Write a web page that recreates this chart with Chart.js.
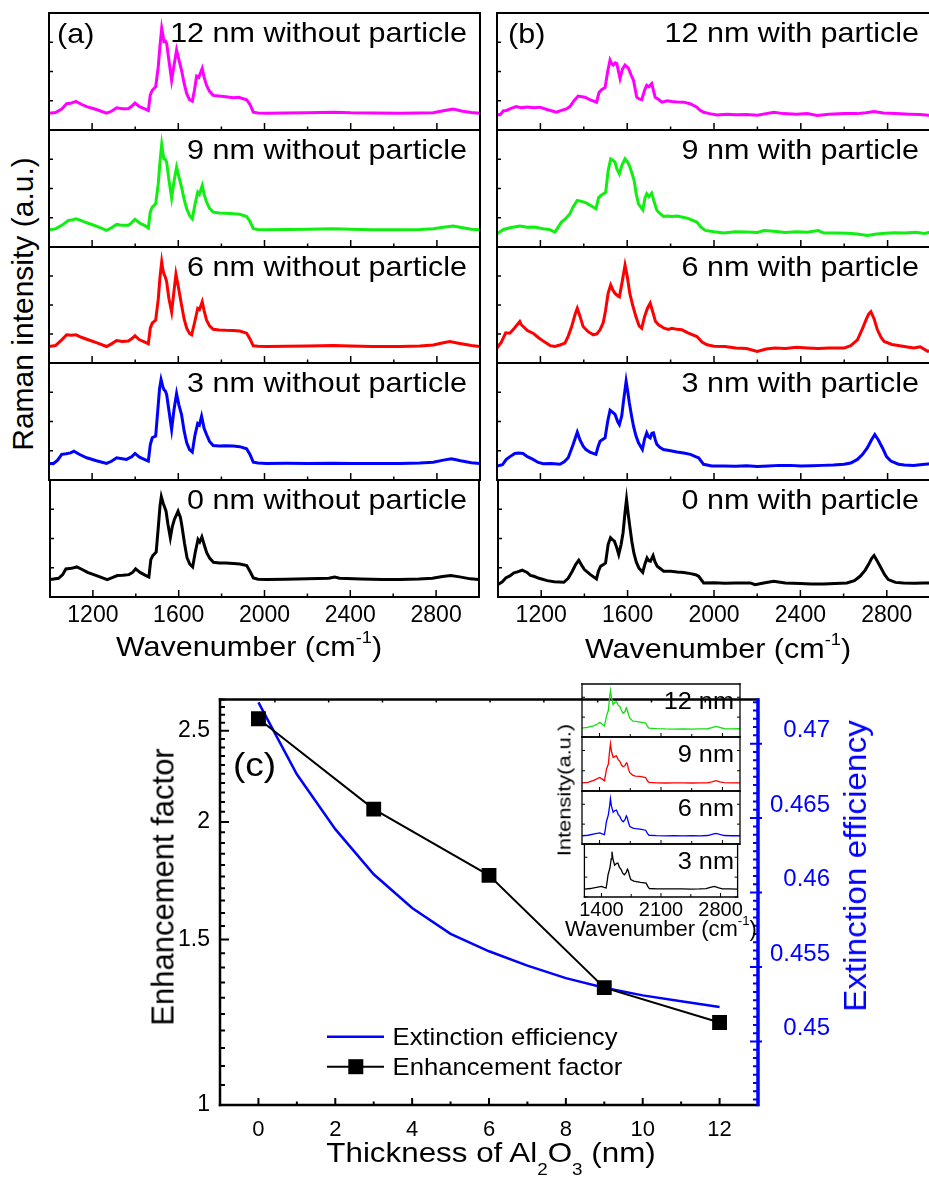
<!DOCTYPE html>
<html>
<head>
<meta charset="utf-8">
<script src="https://cdn.jsdelivr.net/npm/chart.js@4.4.0/dist/chart.umd.min.js"></script>
<style>
  body { margin: 0; background: #fff; overflow: hidden; }
  #fig { position: relative; width: 929px; height: 1178px; overflow: hidden; background: #fff;
         font-family: "Liberation Sans", Arial, sans-serif; color: #000; }
  canvas { position: absolute; }
  .t { position: absolute; white-space: nowrap; line-height: 1; }
  .t sup { font-size: 0.6em; vertical-align: 0.8em; line-height: 0; }
  .t sub { font-size: 0.6em; vertical-align: -0.75em; line-height: 0; }
</style>
</head>
<body>
<div id="fig"></div>
<script>
// ---------- data (intensity as fraction of each sub-panel height) ----------
// panel (a): without particle
const a12 = [[1000,0.144],[1030,0.15],[1059,0.18],[1082,0.224],[1100,0.228],[1125,0.244],[1150,0.22],[1175,0.2],[1220,0.175],[1267,0.144],[1290,0.16],[1314,0.19],[1340,0.182],[1368,0.182],[1385,0.205],[1399,0.23],[1420,0.2],[1445,0.18],[1461,0.167],[1470,0.3],[1479,0.34],[1495,0.37],[1507,0.54],[1515,0.72],[1523,0.87],[1528,0.82],[1533,0.756],[1540,0.76],[1546,0.74],[1556,0.6],[1569,0.425],[1580,0.55],[1592,0.684],[1603,0.6],[1615,0.51],[1627,0.4],[1639,0.31],[1652,0.26],[1665,0.247],[1675,0.34],[1685,0.46],[1695,0.45],[1711,0.526],[1720,0.45],[1731,0.382],[1745,0.33],[1762,0.296],[1790,0.29],[1820,0.285],[1855,0.276],[1880,0.28],[1917,0.259],[1932,0.22],[1948,0.152],[1970,0.146],[2010,0.144],[2100,0.146],[2200,0.148],[2319,0.152],[2400,0.147],[2500,0.145],[2628,0.144],[2720,0.146],[2783,0.148],[2830,0.165],[2875,0.18],[2920,0.16],[2960,0.15],[3000,0.144]];
const a9 = [[1000,0.148],[1030,0.155],[1059,0.185],[1090,0.227],[1105,0.23],[1125,0.241],[1150,0.225],[1175,0.207],[1220,0.178],[1267,0.142],[1290,0.165],[1314,0.193],[1340,0.185],[1368,0.185],[1385,0.21],[1399,0.236],[1420,0.205],[1445,0.183],[1461,0.162],[1470,0.3],[1479,0.341],[1495,0.369],[1507,0.54],[1515,0.73],[1523,0.875],[1528,0.81],[1533,0.753],[1540,0.75],[1546,0.724],[1556,0.58],[1569,0.42],[1580,0.56],[1592,0.682],[1603,0.6],[1615,0.511],[1627,0.41],[1639,0.327],[1652,0.27],[1665,0.241],[1677,0.36],[1690,0.469],[1698,0.45],[1711,0.526],[1720,0.45],[1731,0.384],[1745,0.33],[1762,0.298],[1790,0.29],[1820,0.288],[1855,0.284],[1885,0.28],[1917,0.261],[1932,0.22],[1948,0.156],[1970,0.15],[2010,0.148],[2100,0.15],[2200,0.152],[2319,0.156],[2400,0.151],[2500,0.148],[2628,0.148],[2720,0.15],[2783,0.156],[2830,0.168],[2875,0.179],[2920,0.165],[2960,0.152],[3000,0.148]];
const a6 = [[1000,0.142],[1030,0.15],[1059,0.2],[1082,0.243],[1105,0.24],[1125,0.243],[1150,0.222],[1175,0.205],[1220,0.175],[1267,0.142],[1290,0.165],[1314,0.194],[1340,0.186],[1368,0.19],[1385,0.21],[1399,0.234],[1420,0.2],[1445,0.18],[1461,0.166],[1470,0.3],[1479,0.343],[1495,0.37],[1507,0.55],[1515,0.74],[1523,0.871],[1528,0.81],[1533,0.77],[1540,0.74],[1546,0.7],[1556,0.56],[1569,0.44],[1580,0.62],[1589,0.766],[1600,0.66],[1615,0.5],[1627,0.38],[1639,0.3],[1652,0.255],[1662,0.243],[1677,0.36],[1690,0.47],[1698,0.46],[1711,0.528],[1720,0.45],[1731,0.37],[1745,0.32],[1762,0.29],[1790,0.285],[1820,0.282],[1855,0.28],[1885,0.275],[1917,0.257],[1932,0.21],[1948,0.148],[1970,0.145],[2010,0.142],[2100,0.144],[2200,0.146],[2319,0.15],[2400,0.146],[2500,0.143],[2628,0.142],[2720,0.147],[2783,0.155],[2830,0.175],[2860,0.185],[2900,0.17],[2960,0.15],[3000,0.142]];
const a3 = [[1000,0.142],[1020,0.14],[1040,0.17],[1059,0.219],[1080,0.225],[1100,0.232],[1116,0.247],[1140,0.22],[1175,0.19],[1220,0.165],[1267,0.142],[1290,0.16],[1314,0.19],[1340,0.182],[1360,0.176],[1385,0.2],[1399,0.227],[1420,0.195],[1445,0.175],[1461,0.162],[1470,0.3],[1479,0.361],[1495,0.375],[1505,0.6],[1513,0.78],[1520,0.858],[1528,0.8],[1533,0.773],[1540,0.76],[1546,0.73],[1556,0.6],[1569,0.432],[1580,0.6],[1592,0.739],[1603,0.64],[1615,0.56],[1627,0.42],[1639,0.318],[1652,0.26],[1665,0.239],[1677,0.38],[1690,0.483],[1698,0.47],[1708,0.545],[1720,0.44],[1731,0.389],[1745,0.33],[1762,0.295],[1790,0.29],[1820,0.292],[1855,0.29],[1885,0.285],[1917,0.267],[1932,0.22],[1948,0.153],[1970,0.145],[2010,0.142],[2100,0.143],[2200,0.142],[2319,0.144],[2400,0.142],[2500,0.141],[2628,0.142],[2720,0.146],[2783,0.152],[2830,0.17],[2868,0.182],[2910,0.165],[2960,0.148],[3000,0.142]];
const a0 = [[1000,0.149],[1040,0.16],[1059,0.191],[1074,0.24],[1100,0.245],[1125,0.257],[1150,0.235],[1175,0.211],[1220,0.18],[1267,0.149],[1290,0.165],[1314,0.183],[1340,0.185],[1368,0.191],[1385,0.21],[1399,0.24],[1420,0.21],[1445,0.185],[1461,0.171],[1470,0.32],[1479,0.354],[1495,0.383],[1505,0.6],[1513,0.78],[1519,0.857],[1528,0.8],[1541,0.734],[1550,0.62],[1561,0.506],[1570,0.6],[1580,0.663],[1597,0.734],[1608,0.68],[1615,0.606],[1627,0.46],[1639,0.334],[1652,0.28],[1665,0.257],[1677,0.38],[1690,0.491],[1698,0.47],[1708,0.514],[1720,0.44],[1731,0.377],[1745,0.33],[1762,0.297],[1790,0.29],[1820,0.29],[1855,0.286],[1885,0.282],[1917,0.269],[1932,0.22],[1948,0.163],[1970,0.152],[2010,0.149],[2100,0.152],[2200,0.155],[2300,0.16],[2327,0.171],[2350,0.16],[2450,0.154],[2550,0.15],[2628,0.149],[2720,0.153],[2783,0.16],[2830,0.175],[2868,0.183],[2910,0.172],[2960,0.155],[3000,0.149]];

// panel (b): with particle
const b12 = [[1000,0.132],[1015,0.13],[1030,0.165],[1043,0.167],[1065,0.185],[1089,0.2],[1110,0.19],[1140,0.197],[1170,0.19],[1197,0.195],[1230,0.175],[1274,0.152],[1300,0.17],[1320,0.18],[1336,0.2],[1355,0.25],[1374,0.29],[1390,0.285],[1405,0.28],[1430,0.258],[1459,0.238],[1470,0.32],[1482,0.345],[1498,0.362],[1510,0.5],[1521,0.598],[1528,0.57],[1536,0.555],[1545,0.575],[1552,0.569],[1567,0.44],[1578,0.52],[1590,0.555],[1606,0.526],[1618,0.47],[1629,0.425],[1644,0.28],[1655,0.265],[1667,0.259],[1680,0.34],[1690,0.382],[1700,0.37],[1713,0.397],[1722,0.33],[1729,0.28],[1745,0.26],[1760,0.238],[1785,0.25],[1806,0.244],[1830,0.24],[1860,0.238],[1890,0.225],[1921,0.195],[1935,0.17],[1952,0.152],[1980,0.14],[2014,0.129],[2060,0.135],[2100,0.13],[2150,0.132],[2199,0.126],[2240,0.14],[2276,0.152],[2320,0.14],[2380,0.135],[2430,0.14],[2476,0.124],[2530,0.135],[2600,0.14],[2660,0.14],[2700,0.148],[2738,0.158],[2780,0.145],[2840,0.14],[2900,0.135],[2950,0.132],[3000,0.124]];
const b9 = [[1000,0.114],[1030,0.15],[1060,0.165],[1105,0.179],[1140,0.168],[1170,0.17],[1213,0.156],[1240,0.15],[1267,0.128],[1282,0.17],[1297,0.213],[1315,0.24],[1336,0.284],[1350,0.34],[1370,0.398],[1390,0.39],[1413,0.375],[1435,0.35],[1456,0.327],[1468,0.42],[1479,0.44],[1501,0.469],[1512,0.65],[1524,0.753],[1535,0.74],[1544,0.724],[1552,0.67],[1564,0.625],[1576,0.7],[1590,0.753],[1600,0.73],[1610,0.696],[1622,0.63],[1632,0.568],[1642,0.45],[1652,0.369],[1672,0.318],[1682,0.42],[1690,0.455],[1700,0.43],[1713,0.46],[1725,0.38],[1737,0.312],[1755,0.28],[1767,0.261],[1785,0.265],[1806,0.261],[1830,0.265],[1852,0.256],[1880,0.245],[1921,0.213],[1940,0.17],[1960,0.142],[2000,0.13],[2045,0.119],[2100,0.13],[2150,0.128],[2200,0.125],[2230,0.14],[2276,0.134],[2330,0.125],[2380,0.13],[2430,0.127],[2480,0.14],[2507,0.119],[2560,0.12],[2620,0.118],[2660,0.112],[2707,0.099],[2750,0.112],[2790,0.118],[2830,0.122],[2880,0.12],[2930,0.125],[2970,0.115],[3000,0.128]];
const b6 = [[1000,0.129],[1020,0.18],[1040,0.26],[1059,0.257],[1080,0.3],[1105,0.357],[1112,0.33],[1140,0.28],[1166,0.257],[1190,0.22],[1220,0.18],[1245,0.15],[1267,0.142],[1290,0.155],[1313,0.171],[1328,0.23],[1344,0.314],[1360,0.42],[1370,0.472],[1383,0.4],[1397,0.314],[1420,0.27],[1444,0.243],[1460,0.25],[1475,0.286],[1490,0.35],[1500,0.45],[1512,0.6],[1524,0.672],[1534,0.63],[1544,0.6],[1556,0.58],[1564,0.571],[1575,0.68],[1590,0.843],[1600,0.75],[1612,0.6],[1625,0.5],[1640,0.4],[1655,0.32],[1667,0.3],[1680,0.4],[1693,0.47],[1706,0.515],[1718,0.44],[1730,0.36],[1745,0.33],[1770,0.3],[1790,0.29],[1806,0.3],[1830,0.29],[1852,0.286],[1880,0.26],[1921,0.228],[1945,0.18],[1968,0.157],[2000,0.145],[2050,0.142],[2100,0.13],[2150,0.125],[2199,0.1],[2240,0.12],[2280,0.13],[2330,0.125],[2380,0.135],[2430,0.13],[2480,0.125],[2530,0.13],[2599,0.129],[2630,0.15],[2661,0.2],[2685,0.3],[2700,0.37],[2712,0.42],[2723,0.443],[2738,0.38],[2753,0.286],[2770,0.22],[2784,0.186],[2820,0.16],[2877,0.142],[2920,0.13],[2950,0.14],[2985,0.1],[3000,0.11]];
const b3 = [[1000,0.119],[1025,0.13],[1043,0.176],[1060,0.2],[1082,0.227],[1100,0.23],[1120,0.227],[1140,0.2],[1166,0.176],[1190,0.15],[1213,0.139],[1250,0.14],[1290,0.134],[1310,0.155],[1328,0.19],[1350,0.3],[1370,0.409],[1383,0.34],[1397,0.29],[1410,0.26],[1428,0.239],[1456,0.219],[1465,0.28],[1475,0.332],[1490,0.35],[1498,0.36],[1510,0.5],[1521,0.597],[1532,0.58],[1544,0.56],[1556,0.5],[1564,0.474],[1575,0.55],[1582,0.659],[1595,0.844],[1603,0.75],[1610,0.659],[1620,0.55],[1629,0.46],[1640,0.38],[1652,0.318],[1670,0.261],[1680,0.35],[1690,0.403],[1698,0.37],[1706,0.36],[1714,0.4],[1721,0.403],[1730,0.34],[1737,0.304],[1750,0.28],[1767,0.261],[1800,0.25],[1829,0.239],[1860,0.23],[1891,0.219],[1915,0.2],[1929,0.19],[1952,0.134],[1990,0.12],[2045,0.119],[2100,0.118],[2150,0.122],[2200,0.115],[2250,0.12],[2300,0.125],[2353,0.125],[2400,0.12],[2450,0.122],[2500,0.125],[2550,0.128],[2599,0.134],[2630,0.145],[2661,0.176],[2685,0.22],[2707,0.276],[2725,0.34],[2741,0.389],[2758,0.34],[2776,0.276],[2795,0.2],[2815,0.162],[2850,0.135],[2877,0.128],[2920,0.125],[2960,0.132],[3000,0.139]];
const b0 = [[1000,0.106],[1020,0.13],[1036,0.163],[1055,0.18],[1074,0.206],[1090,0.215],[1112,0.229],[1135,0.21],[1150,0.185],[1166,0.177],[1190,0.16],[1228,0.14],[1260,0.13],[1305,0.126],[1325,0.16],[1344,0.22],[1360,0.28],[1374,0.314],[1388,0.27],[1400,0.234],[1428,0.191],[1456,0.154],[1465,0.22],[1475,0.263],[1490,0.28],[1498,0.291],[1510,0.45],[1521,0.506],[1530,0.49],[1539,0.477],[1550,0.42],[1559,0.363],[1570,0.45],[1579,0.549],[1588,0.72],[1595,0.834],[1602,0.72],[1610,0.606],[1620,0.47],[1629,0.377],[1640,0.3],[1652,0.249],[1670,0.211],[1680,0.28],[1690,0.334],[1698,0.31],[1706,0.306],[1718,0.354],[1727,0.3],[1737,0.263],[1767,0.22],[1800,0.22],[1829,0.214],[1860,0.21],[1891,0.2],[1915,0.19],[1929,0.177],[1952,0.12],[2000,0.122],[2050,0.118],[2100,0.12],[2168,0.12],[2190,0.105],[2230,0.12],[2276,0.134],[2330,0.12],[2400,0.115],[2450,0.112],[2507,0.111],[2560,0.115],[2615,0.12],[2650,0.14],[2676,0.177],[2700,0.23],[2715,0.277],[2730,0.33],[2741,0.354],[2755,0.31],[2769,0.263],[2790,0.19],[2807,0.149],[2840,0.125],[2877,0.12],[2930,0.118],[2970,0.12],[3000,0.12]];

// inset of (c)
const i12 = [[1200,0.169],[1260,0.18],[1333,0.21],[1380,0.25],[1402,0.275],[1430,0.24],[1455,0.21],[1468,0.3],[1478,0.39],[1500,0.5],[1515,0.75],[1524,0.875],[1535,0.75],[1555,0.61],[1575,0.66],[1593,0.67],[1612,0.6],[1631,0.575],[1650,0.5],[1669,0.45],[1690,0.48],[1705,0.55],[1715,0.51],[1730,0.42],[1745,0.356],[1780,0.3],[1810,0.294],[1860,0.28],[1925,0.263],[1945,0.2],[1963,0.169],[2050,0.158],[2150,0.152],[2249,0.15],[2350,0.155],[2450,0.15],[2550,0.152],[2630,0.156],[2680,0.175],[2726,0.2],[2770,0.18],[2821,0.156],[2900,0.154],[3000,0.156]];
const i9 = [[1200,0.15],[1270,0.16],[1340,0.2],[1402,0.25],[1430,0.22],[1455,0.19],[1468,0.3],[1478,0.4],[1500,0.5],[1515,0.75],[1524,0.875],[1535,0.74],[1555,0.62],[1575,0.64],[1593,0.65],[1612,0.58],[1631,0.55],[1650,0.48],[1669,0.45],[1690,0.47],[1705,0.52],[1715,0.51],[1730,0.4],[1745,0.34],[1780,0.29],[1810,0.275],[1860,0.27],[1925,0.25],[1945,0.19],[1963,0.16],[2050,0.15],[2150,0.148],[2249,0.15],[2350,0.15],[2450,0.148],[2550,0.15],[2630,0.152],[2680,0.17],[2726,0.19],[2770,0.17],[2821,0.155],[2900,0.152],[3000,0.15]];
const i6 = [[1200,0.156],[1270,0.165],[1340,0.19],[1402,0.21],[1430,0.19],[1455,0.175],[1468,0.3],[1478,0.42],[1500,0.55],[1515,0.72],[1524,0.856],[1535,0.72],[1555,0.6],[1575,0.63],[1593,0.64],[1612,0.56],[1631,0.52],[1650,0.45],[1669,0.42],[1690,0.46],[1705,0.53],[1715,0.5],[1730,0.4],[1745,0.33],[1780,0.3],[1810,0.29],[1860,0.28],[1925,0.26],[1945,0.2],[1963,0.165],[2050,0.158],[2150,0.155],[2249,0.156],[2350,0.155],[2450,0.156],[2550,0.155],[2630,0.16],[2680,0.18],[2726,0.2],[2770,0.18],[2821,0.16],[2900,0.156],[3000,0.156]];
const i3 = [[1200,0.15],[1270,0.16],[1340,0.18],[1402,0.2],[1430,0.18],[1455,0.17],[1468,0.3],[1478,0.42],[1500,0.55],[1515,0.72],[1524,0.856],[1535,0.72],[1555,0.6],[1575,0.63],[1593,0.64],[1612,0.56],[1631,0.52],[1650,0.45],[1669,0.42],[1690,0.46],[1705,0.525],[1715,0.5],[1730,0.4],[1745,0.33],[1780,0.3],[1810,0.29],[1860,0.275],[1925,0.26],[1945,0.2],[1963,0.16],[2050,0.155],[2150,0.152],[2249,0.155],[2350,0.152],[2450,0.15],[2550,0.152],[2630,0.158],[2680,0.18],[2726,0.2],[2770,0.175],[2821,0.155],[2900,0.152],[3000,0.15]];

// panel (c)
const thickness = [0, 3, 6, 9, 12];
const enhancement = [2.575, 2.064, 1.755, 1.333, 1.224];
const thickFine = [0, 1, 2, 3, 4, 5, 6, 7, 8, 9, 10, 11, 12];
const extinction = [0.47277, 0.46794, 0.46426, 0.46123, 0.45897, 0.45723, 0.45606, 0.4551, 0.45426, 0.45361, 0.4531, 0.45271, 0.45232];

const thickTicks = [-1, 0, 1, 2, 3, 4, 5, 6, 7, 8, 9, 10, 11, 12, 13];
const enhLabels = [1, 1.5, 2, 2.5];

const aLabels = ['12 nm without particle', '9 nm without particle', '6 nm without particle', '3 nm without particle', '0 nm without particle'];
const bLabels = ['12 nm with particle', '9 nm with particle', '6 nm with particle', '3 nm with particle', '0 nm with particle'];
const insetLabels = ['12 nm', '9 nm', '6 nm', '3 nm'];
const rowColors = ['#ff00ff', '#11ee11', '#ff0000', '#0000ff', '#000000'];
const insetColors = ['#11dd11', '#ff0000', '#0000ff', '#000000'];

// ---------- helpers ----------
const FONT = '"Liberation Sans", Arial, sans-serif';
Chart.defaults.font.family = FONT;
const fig = document.getElementById('fig');

function addCanvas(x, y, w, h) {
  const c = document.createElement('canvas');
  c.width = w; c.height = h;
  c.style.left = x + 'px'; c.style.top = y + 'px';
  c.style.width = w + 'px'; c.style.height = h + 'px';
  fig.appendChild(c);
  return c;
}

function addText(html, o) {
  const d = document.createElement('div');
  d.className = 't';
  d.innerHTML = html;
  d.style.fontSize = o.size + 'px';
  if (o.color) d.style.color = o.color;
  const sx = o.sx || 1;
  if (o.rot) {
    d.style.left = o.x + 'px';
    d.style.top = o.y + 'px';
    d.style.transform = `translate(-50%,-50%) rotate(-90deg) scaleX(${sx})`;
  } else {
    d.style.left = o.x + 'px';
    d.style.top = (o.base - 0.8465 * o.size) + 'px';
    const al = o.align || 'left';
    if (al === 'left') { d.style.transformOrigin = '0 0'; d.style.transform = `scaleX(${sx})`; }
    else if (al === 'right') { d.style.transformOrigin = '100% 0'; d.style.transform = `translateX(-100%) scaleX(${sx})`; }
    else { d.style.transformOrigin = '50% 0'; d.style.transform = `translateX(-50%) scaleX(${sx})`; }
  }
  fig.appendChild(d);
}

function stepValues(start, stop, step) {
  const out = [];
  for (let v = start; v <= stop + step * 1e-6; v += step) out.push(Math.round(v * 1e6) / 1e6);
  return out;
}

// frame and inward tick marks, drawn from the chart's own scales
function deco(cfg) {
  return {
    id: 'deco',
    afterDatasetsDraw(chart) {
      const ctx = chart.ctx, a = chart.chartArea;
      ctx.save();
      ctx.lineCap = 'butt';
      (cfg.ticks || []).forEach(t => {
        const s = chart.scales[t.scale];
        ctx.strokeStyle = t.color || '#000';
        ctx.lineWidth = t.lw || 1.5;
        ctx.beginPath();
        s.ticks.forEach(tk => {
          const big = t.isMajor ? t.isMajor(tk.value) : false;
          const len = big ? t.major : t.minor;
          const out = big ? (t.out || 0) : 0;
          const p = s.getPixelForValue(tk.value);
          if (t.side === 'bottom') { ctx.moveTo(p, a.bottom + out); ctx.lineTo(p, a.bottom - len); }
          else if (t.side === 'top') { ctx.moveTo(p, a.top - out); ctx.lineTo(p, a.top + len); }
          else if (t.side === 'left') { ctx.moveTo(a.left - out, p); ctx.lineTo(a.left + len, p); }
          else { ctx.moveTo(a.right + out, p); ctx.lineTo(a.right - len, p); }
        });
        ctx.stroke();
      });
      (cfg.edges || []).forEach(e => {
        ctx.strokeStyle = e.color || '#000';
        ctx.lineWidth = e.lw;
        const h = e.ext || 1;
        ctx.beginPath();
        if (e.side === 'left') { ctx.moveTo(a.left, a.top - h); ctx.lineTo(a.left, a.bottom + h); }
        if (e.side === 'right') { ctx.moveTo(a.right, a.top - h); ctx.lineTo(a.right, a.bottom + h); }
        if (e.side === 'top') { ctx.moveTo(a.left - h, a.top); ctx.lineTo(a.right + h, a.top); }
        if (e.side === 'bottom') { ctx.moveTo(a.left - h, a.bottom); ctx.lineTo(a.right + h, a.bottom); }
        ctx.stroke();
      });
      if (cfg.after) cfg.after(chart, ctx, a);
      ctx.restore();
    }
  };
}

function spectrumPanel(o) {
  const pad = 4;
  const axisH = o.labels ? o.axisH : 0;
  const cv = addCanvas(o.left - pad, o.top - pad, o.width + 2 * pad, o.height + 2 * pad + axisH);
  const frame = ['left', 'right', 'top', 'bottom'].map(side => ({ side, lw: o.frameLw, ext: o.frameLw / 2 }));
  const ticks = [
    { scale: 'x', side: 'bottom', major: o.xMajorLen, minor: o.xMinorLen, isMajor: o.isMajor, lw: o.tickLw },
    { scale: 'y', side: 'left', major: o.yLen, minor: o.yLen, lw: o.tickLw }
  ];
  if (o.rightTicks) ticks.push({ scale: 'y', side: 'right', major: o.yLen, minor: o.yLen, lw: o.tickLw });
  return new Chart(cv, {
    type: 'line',
    data: {
      datasets: [{
        data: o.data.map(p => ({ x: p[0], y: p[1] })),
        borderColor: o.color, borderWidth: o.lw, pointRadius: 0, tension: 0, fill: false
      }]
    },
    options: {
      responsive: false, animation: false, events: [],
      layout: { padding: pad },
      plugins: { legend: { display: false }, tooltip: { enabled: false } },
      scales: {
        x: {
          type: 'linear', min: o.xmin, max: o.xmax, display: !!o.labels,
          grid: { display: false, drawTicks: false }, border: { display: false },
          afterBuildTicks: s => { s.ticks = stepValues(o.tickStart, o.xmax, o.tickStep).map(v => ({ value: v })); },
          afterFit: s => { s.height = axisH; },
          ticks: {
            autoSkip: false, maxRotation: 0, minRotation: 0, padding: o.tickPad, color: '#000',
            font: { family: FONT, size: o.tickSize },
            callback: v => o.isMajor(v) ? String(v) : ''
          }
        },
        y: {
          type: 'linear', min: 0, max: 1, display: false,
          afterBuildTicks: s => { s.ticks = stepValues(0, 1, 0.125).map(v => ({ value: v })); }
        }
      }
    },
    plugins: [deco({ ticks, edges: frame })]
  });
}

// ---------- panels (a) and (b) ----------
const rowTops = [13, 130, 247, 363, 480];
const rowHeights = [117, 117, 116, 117, 117];
const aSeries = [a12, a9, a6, a3, a0];
const bSeries = [b12, b9, b6, b3, b0];

function stackPanel(left, width, series) {
  series.forEach((data, i) => {
    spectrumPanel({
      left, width, top: rowTops[i], height: rowHeights[i], data, color: rowColors[i], lw: 3,
      xmin: 1000, xmax: 3000, tickStart: 1000, tickStep: 200,
      isMajor: v => v % 400 === 0 && v > 1000 && v < 3000,
      labels: i === series.length - 1, axisH: 36, tickPad: 5, tickSize: 23,
      xMajorLen: 7, xMinorLen: 3.5, yLen: 4, tickLw: 1.5, frameLw: 2
    });
  });
}
stackPanel(49, 431, aSeries);
stackPanel(497, 434, bSeries);

// ---------- panel (c) ----------
const cCanvas = addCanvas(120, 673, 740, 480);
new Chart(cCanvas, {
  type: 'line',
  data: {
    datasets: [
      {
        label: 'Enhancement factor', yAxisID: 'y',
        data: thickness.map((t, i) => ({ x: t, y: enhancement[i] })),
        borderColor: '#000', borderWidth: 2, tension: 0,
        pointStyle: 'rect', pointRadius: 10.5, pointBackgroundColor: '#000', pointBorderWidth: 0
      },
      {
        label: 'Extinction efficiency', yAxisID: 'y2',
        data: thickFine.map((t, i) => ({ x: t, y: extinction[i] })),
        borderColor: '#0000ff', borderWidth: 2.5, tension: 0, pointRadius: 0
      }
    ]
  },
  options: {
    responsive: false, animation: false, events: [],
    layout: { padding: { left: 40, right: 30, top: 10, bottom: 8 } },
    plugins: { legend: { display: false }, tooltip: { enabled: false } },
    scales: {
      x: {
        type: 'linear', position: 'bottom', min: -1, max: 13,
        grid: { display: false, drawTicks: false }, border: { display: false },
        afterBuildTicks: s => { s.ticks = thickTicks.map(v => ({ value: v })); },
        afterFit: s => { s.height = 40; },
        ticks: {
          autoSkip: false, maxRotation: 0, minRotation: 0, padding: 12, color: '#000',
          font: { family: FONT, size: 22 },
          callback: v => (v >= 0 && v <= 12 && v % 2 === 0) ? String(v) : ''
        }
      },
      x2: {
        type: 'linear', position: 'top', min: -1.02, max: 8.98, display: false,
        afterBuildTicks: s => { s.ticks = stepValues(0, 8, 1).map(v => ({ value: v })); }
      },
      y: {
        type: 'logarithmic', position: 'left', min: 1, max: 2.7,
        grid: { display: false, drawTicks: false }, border: { display: false },
        afterBuildTicks: s => { s.ticks = stepValues(1, 2.7, 0.05).map(v => ({ value: v })); },
        afterFit: s => { s.width = 60; },
        ticks: {
          autoSkip: false, padding: 10, color: '#000', font: { family: FONT, size: 23 },
          callback: v => enhLabels.includes(v) ? String(v) : ''
        }
      },
      y2: {
        type: 'linear', position: 'right', min: 0.44574, max: 0.47297,
        grid: { display: false, drawTicks: false }, border: { display: false },
        afterBuildTicks: s => {
          const vals = [];
          for (let k = -9; k <= 45; k++) {
            const v = Math.round((0.45 + k * 0.005 / 9) * 1e7) / 1e7;
            if (v >= s.min && v <= s.max) vals.push(v);
          }
          s.ticks = vals.map(v => ({ value: v }));
        },
        afterFit: s => { s.width = 72; },
        ticks: {
          autoSkip: false, padding: 12, color: '#0000ff', crossAlign: 'far', labelOffset: -13,
          font: { family: FONT, size: 24 },
          callback: v => Math.abs(v * 200 - Math.round(v * 200)) < 1e-6 ? v.toFixed(3).replace(/0+$/, '') : ''
        }
      }
    }
  },
  plugins: [deco({
    ticks: [
      { scale: 'x', side: 'bottom', major: 7, minor: 3.5, isMajor: v => v % 2 === 0, lw: 2 },
      { scale: 'x2', side: 'top', major: 3, minor: 3, lw: 1.5 },
      { scale: 'y', side: 'left', major: 9, minor: 5, isMajor: v => enhLabels.includes(v), lw: 2 },
      { scale: 'y2', side: 'right', major: 8, minor: 5, out: 4, color: '#0000ff', lw: 2,
        isMajor: v => Math.abs(v * 200 - Math.round(v * 200)) < 1e-6 }
    ],
    edges: [
      { side: 'left', lw: 2.5, ext: 1.2 }, { side: 'top', lw: 2.5, ext: 1.2 },
      { side: 'bottom', lw: 2.5, ext: 1.2 }, { side: 'right', lw: 3.5, color: '#0000ff', ext: 1.2 }
    ],
    after(chart, ctx, a) {
      const ds = chart.data.datasets;
      const rows = [{ d: ds[1], y: a.bottom - 68.3 }, { d: ds[0], y: a.bottom - 38.3 }];
      rows.forEach(r => {
        ctx.strokeStyle = r.d.borderColor;
        ctx.lineWidth = r.d.borderWidth;
        ctx.beginPath(); ctx.moveTo(a.left + 107, r.y); ctx.lineTo(a.left + 164, r.y); ctx.stroke();
        if (r.d.pointStyle === 'rect') { ctx.fillStyle = '#000'; ctx.fillRect(a.left + 128.3, r.y - 7.5, 15, 15); }
        ctx.fillStyle = '#000';
        ctx.font = '24px ' + FONT;
        ctx.textBaseline = 'alphabetic';
        ctx.textAlign = 'left';
        ctx.save();
        ctx.translate(a.left + 172.5, r.y + 8.3);
        ctx.scale(1.07, 1);
        ctx.fillText(r.d.label, 0, 0);
        ctx.restore();
      });
    }
  })]
});

// inset
const insetTops = [684, 737, 791, 844];
const insetHeights = [53, 54, 53, 53];
[i12, i9, i6, i3].forEach((data, i) => {
  spectrumPanel({
    left: 582, width: 158, top: insetTops[i], height: insetHeights[i], data, color: insetColors[i], lw: 1.3,
    xmin: 1200, xmax: 3000, tickStart: 1400, tickStep: 350,
    isMajor: v => (v - 1400) % 700 === 0,
    labels: i === 3, axisH: 24, tickPad: 1, tickSize: 20,
    xMajorLen: 4, xMinorLen: 3, yLen: 3, tickLw: 1, frameLw: 1.3, rightTicks: true
  });
});

// ---------- text ----------
addText('(a)', { x: 57, base: 44, size: 28, sx: 1.09 });
addText('(b)', { x: 508, base: 44, size: 28, sx: 1.09 });
aLabels.forEach((s, i) => addText(s, { x: 467, base: rowTops[i] + 30, size: 28, sx: 1.09, align: 'right' }));
bLabels.forEach((s, i) => addText(s, { x: 919, base: rowTops[i] + 30, size: 28, sx: 1.09, align: 'right' }));
addText('Raman intensity (a.u.)', { x: 23, y: 304, size: 30, rot: true });
addText('Wavenumber (cm<sup>-1</sup>)', { x: 249, base: 657, size: 28, sx: 1.09, align: 'center' });
addText('Wavenumber (cm<sup>-1</sup>)', { x: 717.5, base: 659, size: 28, sx: 1.09, align: 'center' });

addText('Enhancement factor', { x: 162.5, y: 886.5, size: 31, rot: true });
addText('Extinction efficiency', { x: 855, y: 866, size: 32, rot: true, sx: 1.04, color: '#0000ff' });
addText('(c)', { x: 233, base: 776, size: 34, sx: 1.09 });
addText('Thickness of Al<sub>2</sub>O<sub>3</sub> (nm)', { x: 490.5, base: 1163, size: 28, sx: 1.12, align: 'center' });

addText('Intensity(a.u.)', { x: 564, y: 790, size: 19, rot: true, sx: 1.15 });
addText('Wavenumber (cm<sup>-1</sup>)', { x: 661, base: 936.7, size: 22, align: 'center' });
insetLabels.forEach((s, i) => addText(s, { x: 734, base: insetTops[i] + 25, size: 23, sx: 1.1, align: 'right' }));
</script>
</body>
</html>
